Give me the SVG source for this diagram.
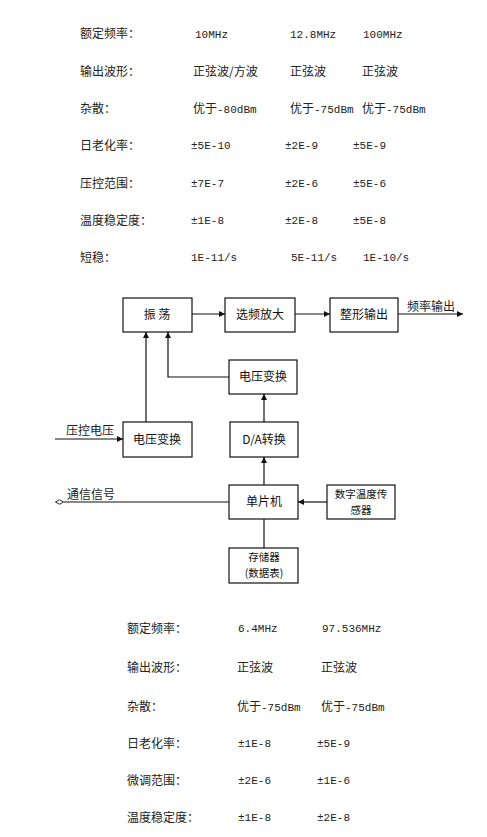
<svg xmlns="http://www.w3.org/2000/svg" width="487" height="837" viewBox="0 0 487 837">
<defs>
<style>
.cn{font-family:"Noto Sans CJK SC","Noto Sans",sans-serif;font-size:12px;fill:#222}
.num{font-family:"Liberation Mono","DejaVu Sans Mono",monospace;font-size:11px;fill:#222}
.box{fill:#fff;stroke:#111;stroke-width:1.2}
.bt{font-family:"Noto Sans CJK SC","Noto Sans",sans-serif;font-size:12px;fill:#111;text-anchor:middle}
.bt2{font-family:"Noto Sans CJK SC","Noto Sans",sans-serif;font-size:10.5px;fill:#111;text-anchor:middle}
.ln{fill:none;stroke:#111;stroke-width:1.2}
</style>
<marker id="arr" viewBox="0 0 8 8" refX="8" refY="4" markerWidth="6" markerHeight="6" orient="auto" markerUnits="userSpaceOnUse">
<path d="M0,0 L8,4 L0,8 Z" fill="#111"/>
</marker>
<marker id="dia" viewBox="0 0 10 6" refX="0" refY="3" markerWidth="9" markerHeight="6" orient="auto" markerUnits="userSpaceOnUse">
<path d="M0.5,3 L5,0.5 L9.5,3 L5,5.5 Z" fill="#fff" stroke="#111" stroke-width="1"/>
</marker>
</defs>
<rect width="487" height="837" fill="#fff"/>

<g id="table-top">
<text class="cn" x="80" y="38">额定频率：</text>
<text class="num" x="195" y="38">10MHz</text>
<text class="num" x="290" y="38">12.8MHz</text>
<text class="num" x="363" y="38">100MHz</text>

<text class="cn" x="80" y="76">输出波形：</text>
<text class="cn" x="193" y="76">正弦波/方波</text>
<text class="cn" x="290" y="76">正弦波</text>
<text class="cn" x="362" y="76">正弦波</text>

<text class="cn" x="80" y="113">杂散：</text>
<text class="cn" x="193" y="113">优于<tspan class="num">-80dBm</tspan></text>
<text class="cn" x="290" y="113">优于<tspan class="num">-75dBm</tspan></text>
<text class="cn" x="362" y="113">优于<tspan class="num">-75dBm</tspan></text>

<text class="cn" x="80" y="150">日老化率：</text>
<text class="num" x="191" y="149">±5E-10</text>
<text class="num" x="285" y="149">±2E-9</text>
<text class="num" x="353" y="149">±5E-9</text>

<text class="cn" x="80" y="188">压控范围：</text>
<text class="num" x="191" y="187">±7E-7</text>
<text class="num" x="285" y="187">±2E-6</text>
<text class="num" x="353" y="187">±5E-6</text>

<text class="cn" x="80" y="225">温度稳定度：</text>
<text class="num" x="191" y="224">±1E-8</text>
<text class="num" x="285" y="224">±2E-8</text>
<text class="num" x="353" y="224">±5E-8</text>

<text class="cn" x="80" y="262">短稳：</text>
<text class="num" x="191" y="261">1E-11/s</text>
<text class="num" x="291" y="261">5E-11/s</text>
<text class="num" x="363" y="261">1E-10/s</text>
</g>

<g id="connectors">
<line class="ln" x1="192" y1="314" x2="225" y2="314" marker-end="url(#arr)"/>
<line class="ln" x1="295" y1="314" x2="330" y2="314" marker-end="url(#arr)"/>
<line class="ln" x1="398" y1="314" x2="463" y2="314" marker-end="url(#arr)"/>
<polyline class="ln" points="229,377 168,377 168,332" marker-end="url(#arr)"/>
<line class="ln" x1="146" y1="422" x2="146" y2="332" marker-end="url(#arr)"/>
<line class="ln" x1="264" y1="422" x2="264" y2="394" marker-end="url(#arr)"/>
<line class="ln" x1="55" y1="439" x2="123" y2="439" marker-end="url(#arr)"/>
<line class="ln" x1="264" y1="485" x2="264" y2="457" marker-end="url(#arr)"/>
<line class="ln" x1="327" y1="502" x2="298" y2="502" marker-end="url(#arr)"/>
<line class="ln" x1="229" y1="502" x2="64" y2="502" marker-end="url(#dia)"/>
<line class="ln" x1="264" y1="519" x2="264" y2="548"/>
<text class="cn" x="407" y="311">频率输出</text>
<text class="cn" x="66" y="435">压控电压</text>
<text class="cn" x="67" y="499">通信信号</text>
</g>

<g id="osc"><rect class="box" x="123" y="298" width="69" height="34"/><text class="bt" x="157" y="319">振 荡</text></g>
<g id="amp"><rect class="box" x="225" y="298" width="70" height="34"/><text class="bt" x="260" y="319">选频放大</text></g>
<g id="shape"><rect class="box" x="330" y="298" width="68" height="34"/><text class="bt" x="364" y="319">整形输出</text></g>
<g id="vconv1"><rect class="box" x="229" y="360" width="68" height="34"/><text class="bt" x="263" y="381">电压变换</text></g>
<g id="vconv2"><rect class="box" x="123" y="422" width="69" height="35"/><text class="bt" x="157" y="444">电压变换</text></g>
<g id="dac"><rect class="box" x="230" y="422" width="68" height="35"/><text class="bt" x="264" y="444">D/A转换</text></g>
<g id="mcu"><rect class="box" x="229" y="485" width="69" height="34"/><text class="bt" x="264" y="506">单片机</text></g>
<g id="sensor"><rect class="box" x="327" y="485" width="68" height="34"/><text class="bt2" x="361" y="498">数字温度传</text><text class="bt2" x="361" y="514">感器</text></g>
<g id="mem"><rect class="box" x="229" y="548" width="69" height="35"/><text class="bt2" x="264" y="561">存储器</text><text class="bt2" x="264" y="577">(数据表)</text></g>

<g id="table-bottom">
<text class="cn" x="127" y="633">额定频率：</text>
<text class="num" x="238" y="632">6.4MHz</text>
<text class="num" x="322" y="632">97.536MHz</text>

<text class="cn" x="127" y="672">输出波形：</text>
<text class="cn" x="237" y="672">正弦波</text>
<text class="cn" x="321" y="672">正弦波</text>

<text class="cn" x="127" y="711">杂散：</text>
<text class="cn" x="237" y="711">优于<tspan class="num">-75dBm</tspan></text>
<text class="cn" x="321" y="711">优于<tspan class="num">-75dBm</tspan></text>

<text class="cn" x="127" y="748">日老化率：</text>
<text class="num" x="238" y="747">±1E-8</text>
<text class="num" x="317" y="747">±5E-9</text>

<text class="cn" x="127" y="785">微调范围：</text>
<text class="num" x="238" y="784">±2E-6</text>
<text class="num" x="317" y="784">±1E-6</text>

<text class="cn" x="127" y="822">温度稳定度：</text>
<text class="num" x="238" y="821">±1E-8</text>
<text class="num" x="317" y="821">±2E-8</text>
</g>
</svg>
